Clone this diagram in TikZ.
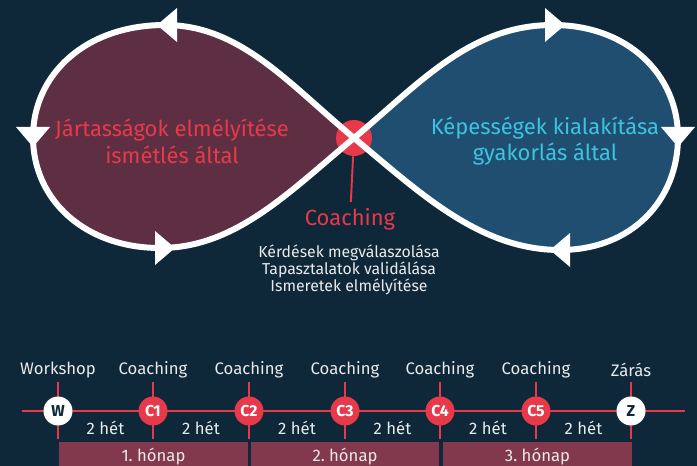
\documentclass[tikz,border=0pt]{standalone}
\usepackage{fontspec}
\setmainfont{Fira Sans}
\usetikzlibrary{calc, positioning}

\definecolor{bgnavy}{HTML}{0E283A}
\definecolor{lobered}{HTML}{5E2F42}
\definecolor{lobeblue}{HTML}{1F4E70}
\definecolor{accent}{HTML}{E8394A}
\definecolor{tealtext}{HTML}{3EC3DE}
\definecolor{monthfill}{HTML}{83394D}
\definecolor{softwhite}{HTML}{EAEAEA}

\pgfdeclarelayer{backdrop}
\pgfdeclarelayer{under}
\pgfsetlayers{backdrop,under,main}

\tikzset{
	lobeline/.style = {draw=white, line width=3.4pt, line join=round},
	lobetext/.style = {align=center, font=\fontsize{12.5}{15.3}\selectfont},
	hubdot/.style = {circle, fill=accent, minimum size=0.72cm, inner sep=0pt},
	track/.style = {accent, line width=1.6pt},
	tick/.style = {accent, line width=1.1pt},
	stopdot/.style = {circle, fill=white, text=bgnavy, minimum size=0.58cm, inner sep=0pt, font=\fontsize{9}{9}\selectfont\bfseries},
	coachdot/.style = {circle, fill=accent, text=white, minimum size=0.58cm, inner sep=0pt, font=\fontsize{9}{9}\selectfont\bfseries},
	tllabel/.style = {text=softwhite, font=\fontsize{9.5}{11}\selectfont},
	gaplabel/.style = {text=softwhite, font=\fontsize{9.5}{11}\selectfont},
	monthbar/.style = {fill=monthfill, text=softwhite, minimum height=0.6cm, inner sep=0pt, font=\fontsize{9.5}{11}\selectfont},
}

% arrowhead on the loop: x, y, direction
\newcommand{\flowarrow}[3]{\fill[white, shift={(#1,#2)}, rotate=#3] (10,0) -- (-10,17) -- (-10,-17) -- cycle;}

\def\leftlobe{(354,138) .. controls (288,83) and (240,25) .. (165,25)
	.. controls (85,25) and (33,75) .. (33,137)
	.. controls (33,200) and (85,248) .. (160,248)
	.. controls (235,248) and (288,193) .. (354,138)}
\def\rightlobe{(354,138) .. controls (420,83) and (470,25) .. (553,25)
	.. controls (628,25) and (678,75) .. (678,137)
	.. controls (678,200) and (632,250) .. (560,250)
	.. controls (480,250) and (420,193) .. (354,138)}

\begin{document}
\begin{tikzpicture}[x=0.02cm, y=-0.02cm]
	\begin{pgfonlayer}{backdrop}
		\fill[bgnavy] (0,0) rectangle (697,466);
	\end{pgfonlayer}
	\useasboundingbox (0,0) rectangle (697,466);
	
	% the two lobes
	\fill[lobered] \leftlobe -- cycle;
	\fill[lobeblue] \rightlobe -- cycle;
	\node[hubdot] (hub) at (354,138) {};
	\draw[lobeline] \leftlobe;
	\draw[lobeline] \rightlobe;
	
	\flowarrow{167}{25}{180}
	\flowarrow{33}{137}{-90}
	\flowarrow{165}{248}{0}
	\flowarrow{555}{25}{0}
	\flowarrow{678}{137}{-90}
	\flowarrow{560}{250}{180}
	
	\node[lobetext, text=accent] (deepen) at (172,141) {Jártasságok elmélyítése\\ismétlés által};
	\node[lobetext, text=tealtext] (build) at (545,141) {Képességek kialakítása\\gyakorlás által};
	
	% coaching in the middle
	\node[text=accent, font=\fontsize{12.5}{15}\selectfont] (coach) at (350,219) {Coaching};
	\draw[accent, line width=1.1pt] (hub) -- (coach);
	\node[text=softwhite, align=center, font=\fontsize{9}{9.6}\selectfont] (tasks) at (349,270)
		{Kérdések megválaszolása\\Tapasztalatok validálása\\Ismeretek elmélyítése};
	
	% timeline
	\node[stopdot] (w) at (58,411) {W};
	\foreach \i/\x in {1/153, 2/249, 3/345, 4/440, 5/536}
		\node[coachdot] (c\i) at (\x,411) {C\i};
	\node[stopdot] (z) at (631,411) {Z};
	
	\node[tllabel] (lw) at (58,370) {Workshop};
	\foreach \i/\x in {1/153, 2/249, 3/345, 4/440, 5/536}
		\node[tllabel] (l\i) at (\x,370) {Coaching};
	\node[tllabel] (lz) at (631,370) {Zárás};
	
	\coordinate (tlstart) at (22,411);
	\coordinate (tlend) at (685,411);
	\begin{pgfonlayer}{under}
		\draw[track] (tlstart) -- (tlend);
		\foreach \n in {w,c1,c2,c3,c4,c5,z}
			\draw[tick] ($(\n)+(0,-29)$) -- ($(\n)+(0,28)$);
	\end{pgfonlayer}
	
	\foreach \a/\b in {w/c1, c1/c2, c2/c3, c3/c4, c4/c5, c5/z}
		\node[gaplabel] (gap-\a) at ($(\a)!0.5!(\b)+(0,17)$) {2 hét};
	
	\node[monthbar, minimum width=3.78cm] (m1) at (153.5,457) {1.~hónap};
	\node[monthbar, minimum width=3.76cm] (m2) at (345,457) {2.~hónap};
	\node[monthbar, minimum width=3.78cm] (m3) at (537.5,457) {3.~hónap};
\end{tikzpicture}
\end{document}
